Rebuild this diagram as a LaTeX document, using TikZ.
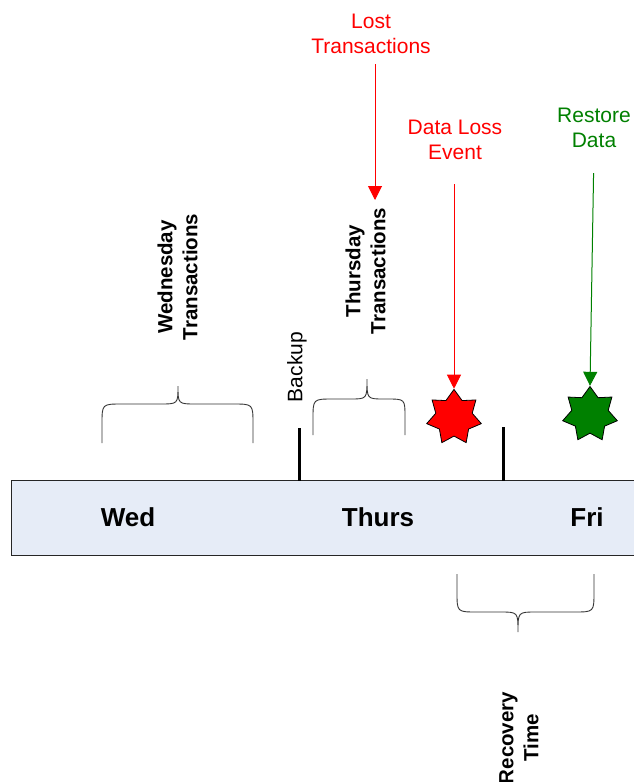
\documentclass[tikz,border=0pt]{standalone}
\usepackage{fontspec}
\setmainfont{Liberation Sans}
\usetikzlibrary{shapes.geometric,arrows.meta}
\definecolor{tlfill}{RGB}{230,236,247}
\definecolor{dgreen}{RGB}{0,128,0}
\begin{document}
\begin{tikzpicture}[x=1pt,y=-1pt,
 lbl/.style={font=\fontsize{21}{25}\selectfont, align=center, inner sep=0pt},
 rot/.style={font=\fontsize{20.5}{25}\selectfont\bfseries, align=center, rotate=90, inner sep=0pt},
 day/.style={font=\fontsize{26}{30}\selectfont\bfseries, inner sep=0pt},
 brace/.style={line width=0.9pt, draw=black!80},
 tickmark/.style={line width=3pt},
 ptr/.style={line width=1pt, -{Triangle[width=14pt,length=14pt]}},
 burst/.style={star, star points=7, star point ratio=1.5, minimum size=56pt, inner sep=0pt, draw=black, line width=0.8pt}]
\useasboundingbox (0,0) rectangle (634,782);
% timeline
\draw[fill=tlfill, draw=black!85, line width=1pt] (11,480) rectangle (660,555);
\node[day] (wed) at (128,517) {Wed};
\node[day] (thu) at (378,517) {Thurs};
\node[day] (fri) at (587,517) {Fri};
% ticks
\coordinate (b1) at (299,428); \coordinate (b2) at (299,481);
\coordinate (r1) at (503,427); \coordinate (r2) at (503,481);
\draw[tickmark] (b1) -- (b2);
\draw[tickmark] (r1) -- (r2);
\node[font=\fontsize{21}{25}\selectfont, rotate=90, inner sep=0pt] (backup) at (297,367) {Backup};
% braces
\draw[brace] (102,443) -- (102,424) .. controls (102,404) .. (122,404) -- (160,404)
  .. controls (178,404) .. (178,386) .. controls (178,404) .. (196,404) -- (233,404)
  .. controls (253,404) .. (253,424) -- (253,443);
\draw[brace] (313,435) -- (313,419) .. controls (313,399) .. (333,399) -- (350,399)
  .. controls (367,399) .. (367,379) .. controls (367,399) .. (384,399) -- (387,399)
  .. controls (405,399) .. (405,417) -- (405,435);
\draw[brace] (457,574) -- (457,592) .. controls (457,612) .. (477,612) -- (500,612)
  .. controls (518,612) .. (518,632) .. controls (518,612) .. (536,612) -- (574,612)
  .. controls (594,612) .. (594,592) -- (594,574);
% rotated labels
\node[rot] (wtx) at (177.5,277) {Wednesday\\Transactions};
\node[rot] (ttx) at (365.5,271) {Thursday\\Transactions};
\node[rot] (rec) at (519,738) {Recovery\\Time};
% stars
\node[burst, fill=red] (loss) at (454,417.4) {};
\node[burst, fill=dgreen] (restore) at (590,414.5) {};
% labels and arrows
\node[lbl, text=red] (lost) at (371,34) {Lost\\Transactions};
\node[lbl, text=red] (dle) at (455,140) {Data Loss\\Event};
\node[lbl, text=dgreen] (rd) at (594,128) {Restore\\Data};
\coordinate (lostend) at (375,200);
\draw[ptr, red, shorten <=10pt] (lost.south -| lostend) -- (lostend);
\draw[ptr, red, shorten <=24pt] (dle.south -| loss.north) -- (loss.north);
\draw[ptr, dgreen, shorten <=25pt] (rd.south) -- (restore.north);
\end{tikzpicture}
\end{document}
